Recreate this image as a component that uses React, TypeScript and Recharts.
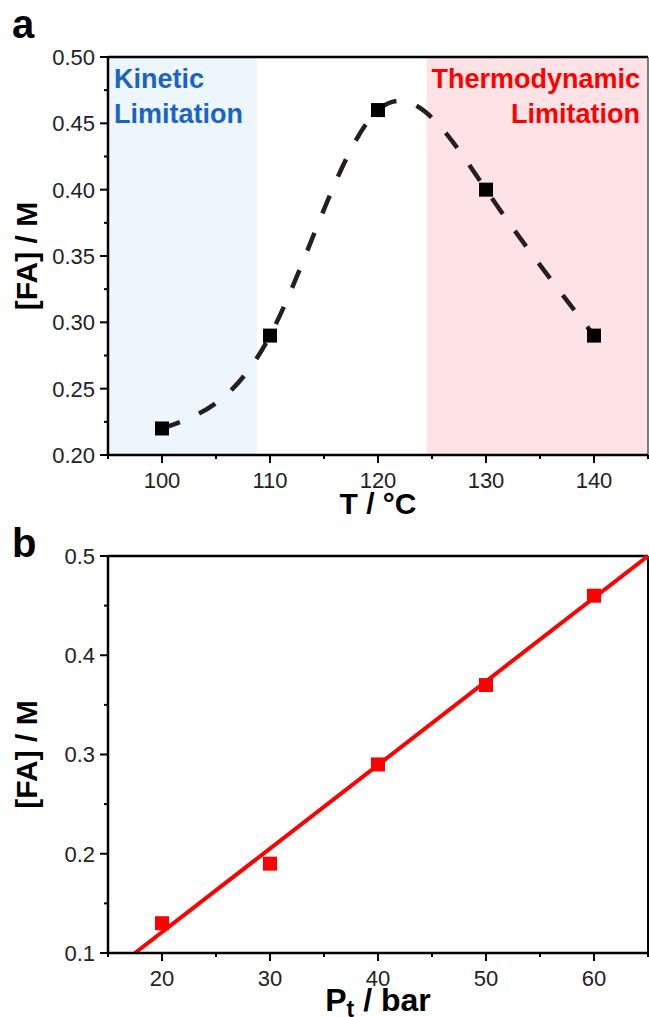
// Two stacked panels: [FA] vs temperature (a) and vs total pressure (b).

import React from 'react'
import {
  ComposedChart,
  Line,
  Scatter,
  XAxis,
  YAxis,
  ReferenceArea,
  ReferenceLine,
} from 'recharts'

const FONT = '"Liberation Sans", Arial, Helvetica, sans-serif'

// panel a — temperature sweep
const TEMP_C = [100, 110, 120, 130, 140]
const FA_TEMP = [0.22, 0.29, 0.46, 0.4, 0.29]
const KINETIC_ZONE = [95, 108.8]
const THERMO_ZONE = [124.5, 145]
const A_X_MAJOR = [100, 110, 120, 130, 140]
const A_X_MINOR = [95, 105, 115, 125, 135, 145]
const A_Y_MAJOR = [0.2, 0.25, 0.3, 0.35, 0.4, 0.45, 0.5]
const A_Y_MINOR = [0.225, 0.275, 0.325, 0.375, 0.425, 0.475]

// panel b — total pressure sweep + linear fit
const P_BAR = [20, 30, 40, 50, 60]
const FA_P = [0.13, 0.19, 0.29, 0.37, 0.46]
const FIT_P = [17.5, 65]
const FIT_FA = [0.1, 0.5]
const B_X_MAJOR = [20, 30, 40, 50, 60]
const B_X_MINOR = [15, 25, 35, 45, 55, 65]
const B_Y_MAJOR = [0.1, 0.2, 0.3, 0.4, 0.5]
const B_Y_MINOR = [0.15, 0.25, 0.35, 0.45]

const rowsA = TEMP_C.map((t, i) => ({ t, fa: FA_TEMP[i] }))
const rowsB = P_BAR.map((p, i) => ({ p, fa: FA_P[i] }))
const fitRows = FIT_P.map((p, i) => ({ p, fa: FIT_FA[i] }))

const byValue = (a: number, b: number) => a - b
const isIn = (list: number[], v: number) => list.some((m) => Math.abs(m - v) < 1e-9)

function makeXTick(majors: number[]) {
  return function XTick(props: any) {
    const { x, y, payload } = props
    const major = isIn(majors, payload.value)
    return (
      <g>
        <line x1={x} x2={x} y1={y} y2={y + (major ? 8 : 4)} stroke="#000" strokeWidth={2} />
        {major && (
          <text x={x} y={y + 33} textAnchor="middle" fontSize={22} fill="#222" fontFamily={FONT}>
            {payload.value}
          </text>
        )}
      </g>
    )
  }
}

function makeYTick(majors: number[], digits: number) {
  return function YTick(props: any) {
    const { x, y, payload } = props
    const major = isIn(majors, payload.value)
    return (
      <g>
        <line x1={x - (major ? 8 : 4)} x2={x} y1={y} y2={y} stroke="#000" strokeWidth={2} />
        {major && (
          <text x={x - 13} y={y} dy="0.36em" textAnchor="end" fontSize={22} fill="#222" fontFamily={FONT}>
            {payload.value.toFixed(digits)}
          </text>
        )}
      </g>
    )
  }
}

// rotated y title plus the panel letter above the axis
function YTitle({ viewBox, letter, letterDy }: any) {
  const cx = viewBox.x + 29
  const cy = viewBox.y + viewBox.height / 2
  return (
    <g fontFamily={FONT} fontWeight="bold" fill="#000">
      <text x={cx} y={cy} textAnchor="middle" fontSize={30} transform={`rotate(-90 ${cx} ${cy})`}>
        [FA] / M
      </text>
      <text x={12} y={viewBox.y + letterDy} fontSize={40}>
        {letter}
      </text>
    </g>
  )
}

function XTitle({ viewBox, children, dy, size = 30 }: any) {
  return (
    <text
      x={viewBox.x + viewBox.width / 2}
      y={viewBox.y + dy}
      textAnchor="middle"
      fontSize={size}
      fontWeight="bold"
      fontFamily={FONT}
      fill="#000"
    >
      {children}
    </text>
  )
}

function ZoneLabel({ viewBox, lines, color, align }: any) {
  const right = align === 'right'
  const x = right ? viewBox.x + viewBox.width - 8 : viewBox.x + 6
  return (
    <text
      x={x}
      y={viewBox.y + 31}
      textAnchor={right ? 'end' : 'start'}
      fontSize={27}
      fontWeight="bold"
      fontFamily={FONT}
      fill={color}
    >
      {lines.map((l: string, i: number) => (
        <tspan key={l} x={x} dy={i === 0 ? 0 : 35}>
          {l}
        </tspan>
      ))}
    </text>
  )
}

function square(color: string) {
  return (p: any) => (
    <rect key={`sq-${p.index}`} x={p.cx - 7} y={p.cy - 7} width={14} height={14} fill={color} />
  )
}

const axisLine = { stroke: '#000', strokeWidth: 2.5 }

export default function App() {
  return (
    <div style={{ position: 'absolute', left: 0, top: 0, width: 649, height: 1017, background: '#fff' }}>
      <div style={{ position: 'absolute', left: 0, top: 0 }}>
        <ComposedChart width={649} height={525} data={rowsA} margin={{ top: 57, right: 1, left: 8, bottom: 0 }}>
          <ReferenceArea x1={KINETIC_ZONE[0]} x2={KINETIC_ZONE[1]} fill="#eef6fd" fillOpacity={1} stroke="none"
            label={<ZoneLabel lines={['Kinetic', 'Limitation']} color="#1a64c2" align="left" />} />
          <ReferenceArea x1={THERMO_ZONE[0]} x2={THERMO_ZONE[1]} fill="#fde3e5" fillOpacity={1} stroke="none"
            label={<ZoneLabel lines={['Thermodynamic', 'Limitation']} color="#ff0000" align="right" />} />
          <XAxis
            type="number"
            dataKey="t"
            domain={[95, 145]}
            ticks={[...A_X_MAJOR, ...A_X_MINOR].sort(byValue)}
            interval={0}
            height={70}
            tickSize={0}
            tickMargin={0}
            tickLine={false}
            axisLine={axisLine}
            tick={makeXTick(A_X_MAJOR)}
            label={<XTitle dy={59}>T / °C</XTitle>}
          />
          <YAxis
            type="number"
            domain={[0.2, 0.5]}
            ticks={[...A_Y_MAJOR, ...A_Y_MINOR].sort(byValue)}
            interval={0}
            width={100}
            tickSize={0}
            tickMargin={0}
            tickLine={false}
            axisLine={axisLine}
            tick={makeYTick(A_Y_MAJOR, 2)}
            label={<YTitle letter="a" letterDy={-19} />}
          />
          <ReferenceLine y={0.5} stroke="#000" strokeWidth={2.5} />
          <ReferenceLine x={145} stroke="#555" strokeWidth={1.5} />
          <Line
            type="natural"
            dataKey="fa"
            stroke="#231f20"
            strokeWidth={4.5}
            strokeDasharray="19 21"
            dot={square('#000')}
            activeDot={false}
            isAnimationActive={false}
          />
        </ComposedChart>
      </div>
      <div style={{ position: 'absolute', left: 0, top: 520 }}>
        <ComposedChart width={649} height={497} data={rowsB} margin={{ top: 36, right: 1, left: 8, bottom: 0 }}>
          <XAxis
            type="number"
            dataKey="p"
            domain={[15, 65]}
            ticks={[...B_X_MAJOR, ...B_X_MINOR].sort(byValue)}
            interval={0}
            height={64}
            tickSize={0}
            tickMargin={0}
            tickLine={false}
            axisLine={axisLine}
            tick={makeXTick(B_X_MAJOR)}
            label={
              <XTitle dy={58} size={32}>
                <tspan>P</tspan>
                <tspan fontSize={23} dy={6}>t</tspan>
                <tspan dy={-6}> / bar</tspan>
              </XTitle>
            }
          />
          <YAxis
            type="number"
            dataKey="fa"
            domain={[0.1, 0.5]}
            ticks={[...B_Y_MAJOR, ...B_Y_MINOR].sort(byValue)}
            interval={0}
            width={100}
            tickSize={0}
            tickMargin={0}
            tickLine={false}
            axisLine={axisLine}
            tick={makeYTick(B_Y_MAJOR, 1)}
            label={<YTitle letter="b" letterDy={1} />}
          />
          <ReferenceLine y={0.5} stroke="#000" strokeWidth={2.5} />
          <ReferenceLine x={65} stroke="#000" strokeWidth={2} />
          <Line
            data={fitRows}
            dataKey="fa"
            type="linear"
            stroke="#ff0000"
            strokeWidth={4}
            dot={false}
            activeDot={false}
            isAnimationActive={false}
          />
          <Scatter dataKey="fa" fill="#ff0000" shape={square('#ff0000')} isAnimationActive={false} />
        </ComposedChart>
      </div>
    </div>
  )
}
